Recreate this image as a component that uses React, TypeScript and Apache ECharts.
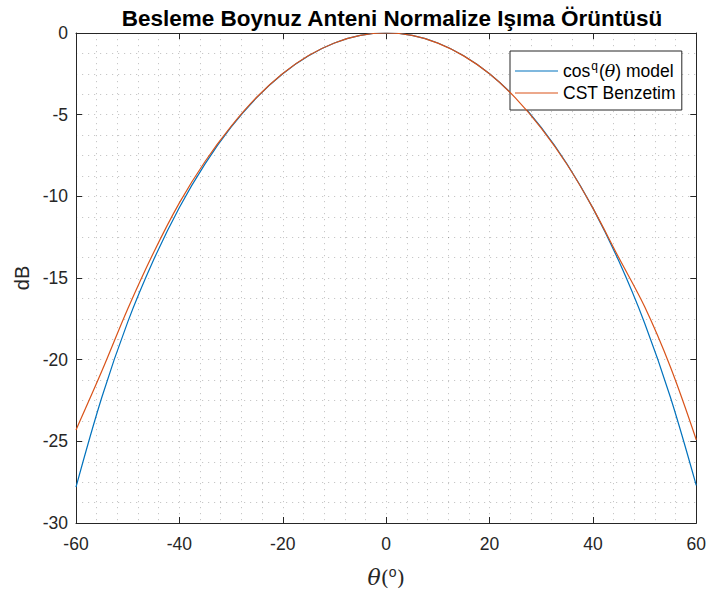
import React, { useEffect, useRef } from "react";
import * as echarts from "echarts";

// Angle grid (degrees) and normalized patterns (dB)
const theta = [-60, -55, -50, -45, -40, -35, -30, -25, -20, -15, -10, -5, 0, 5, 10, 15, 20, 25, 30, 35, 40, 45, 50, 55, 60];
const modelDb = [-27.8, -22.3, -17.7, -13.9, -10.68, -8.0, -5.77, -3.94, -2.49, -1.39, -0.61, -0.15, 0, -0.15, -0.61, -1.39, -2.49, -3.95, -5.78, -8.02, -10.72, -13.95, -17.75, -22.3, -27.7];
const cstDb = [-24.3, -20.7, -16.9, -13.45, -10.4, -7.85, -5.72, -3.92, -2.48, -1.38, -0.61, -0.15, 0, -0.15, -0.62, -1.4, -2.5, -3.97, -5.82, -8.05, -10.72, -13.75, -16.75, -20.45, -24.9];

const xTicks = [-60, -40, -20, 0, 20, 40, 60];
const yTicks = [-30, -25, -20, -15, -10, -5, 0];

const MODEL = "cosq model";
const CST = "CST Benzetim";

const AXIS = "#262626";
const GRID = "rgba(0,0,0,0.22)";
const FONT = "'Liberation Sans', Arial, Helvetica, sans-serif";

export default function App() {
  const ref = useRef<HTMLDivElement>(null);

  useEffect(() => {
    if (!ref.current) return;
    const chart = echarts.init(ref.current, undefined, { renderer: "svg" });

    const dotted = { show: true, lineStyle: { color: GRID, type: [1.2, 4.8] as any, width: 1 } };

    const baseX = {
      type: "value" as const,
      min: xTicks[0],
      max: xTicks[xTicks.length - 1],
      interval: 20,
      axisLine: { show: true, onZero: false, lineStyle: { color: AXIS, width: 1 } },
      axisTick: { show: true, inside: true, length: 6, lineStyle: { color: AXIS } },
    };
    const baseY = {
      type: "value" as const,
      min: yTicks[0],
      max: yTicks[yTicks.length - 1],
      interval: 5,
      axisLine: { show: true, onZero: false, lineStyle: { color: AXIS, width: 1 } },
      axisTick: { show: true, inside: true, length: 6, lineStyle: { color: AXIS } },
    };

    chart.setOption({
      animation: false,
      backgroundColor: "#ffffff",
      textStyle: { fontFamily: FONT },
      title: {
        text: "Besleme Boynuz Anteni Normalize Işıma Örüntüsü",
        left: 387,
        top: 2,
        textAlign: "center",
        textStyle: { fontSize: 22.5, fontWeight: "bold", color: "#000", fontFamily: FONT },
      },
      grid: { left: 76, right: 10, top: 33, bottom: 76, containLabel: false },
      legend: {
        left: 510,
        top: 51,
        orient: "vertical",
        backgroundColor: "#ffffff",
        borderColor: AXIS,
        borderWidth: 1,
        borderRadius: 0,
        padding: [9, 6, 8, 5],
        itemGap: 4,
        itemWidth: 43,
        itemHeight: 19,
        icon: "path://M0,10 L43,10 L43,11.2 L0,11.2 Z",
        data: [MODEL, CST],
        formatter: (name: string) =>
          name === MODEL ? "{n|cos}{sup|q}{n|(}{it|θ}{n|) model}" : "{n|CST Benzetim}",
        textStyle: {
          color: "#000",
          fontSize: 17.5,
          rich: {
            n: { fontSize: 17.5, color: "#000", fontFamily: FONT },
            sup: { fontSize: 12, color: "#000", fontFamily: FONT, padding: [0, 1, 10, 1] },
            it: { fontSize: 17.5, color: "#000", fontStyle: "italic", fontFamily: "'DejaVu Serif', serif" },
          },
        },
      },
      xAxis: [
        {
          ...baseX,
          position: "bottom",
          name: "{it|θ}{n|(}{sup|o}{n|)}",
          nameLocation: "middle",
          nameGap: 42,
          nameTextStyle: {
            rich: {
              it: { fontSize: 22, fontStyle: "italic", color: AXIS, fontFamily: "'DejaVu Serif', serif" },
              n: { fontSize: 21, color: AXIS, fontFamily: "'DejaVu Serif', serif" },
              sup: { fontSize: 14, color: AXIS, fontFamily: FONT, padding: [0, 0, 11, 0] },
            },
          },
          axisLabel: { color: AXIS, fontSize: 17.5, margin: 12, fontFamily: FONT },
          splitLine: dotted,
          minorTick: { show: false, splitNumber: 5 },
          minorSplitLine: dotted,
        },
        {
          ...baseX,
          position: "top",
          axisLabel: { show: false },
          splitLine: { show: false },
        },
      ],
      yAxis: [
        {
          ...baseY,
          position: "left",
          name: "dB",
          nameLocation: "middle",
          nameGap: 42,
          nameTextStyle: { fontSize: 20, color: AXIS, fontFamily: FONT },
          axisLabel: { color: AXIS, fontSize: 17.5, margin: 8, fontFamily: FONT },
          splitLine: dotted,
          minorTick: { show: false, splitNumber: 4 },
          minorSplitLine: dotted,
        },
        {
          ...baseY,
          position: "right",
          axisLabel: { show: false },
          splitLine: { show: false },
        },
      ],
      series: [
        {
          name: MODEL,
          type: "line",
          data: theta.map((t, i) => [t, modelDb[i]]),
          smooth: 0.35,
          showSymbol: false,
          lineStyle: { color: "#0072BD", width: 1.2 },
          itemStyle: { color: "#0072BD" },
          z: 3,
        },
        {
          name: CST,
          type: "line",
          data: theta.map((t, i) => [t, cstDb[i]]),
          smooth: 0.35,
          showSymbol: false,
          lineStyle: { color: "#D95319", width: 1.2 },
          itemStyle: { color: "#D95319" },
          z: 4,
        },
      ],
    });

    return () => chart.dispose();
  }, []);

  return (
    <div
      ref={ref}
      style={{ position: "fixed", left: 0, top: 0, width: 709, height: 599, background: "#fff" }}
    />
  );
}
